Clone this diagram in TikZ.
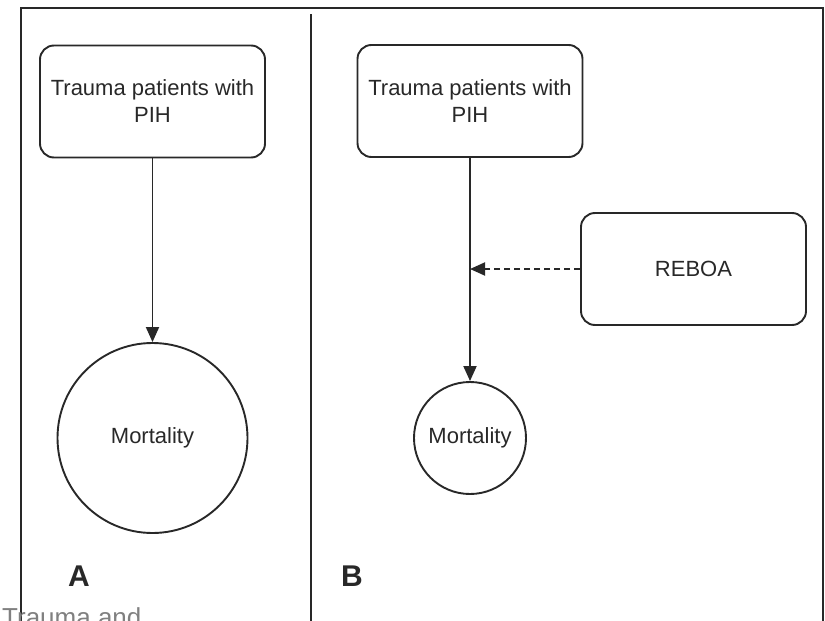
\documentclass[tikz,border=0pt]{standalone}
\usepackage{fontspec}
\setmainfont{Liberation Sans}
\usetikzlibrary{arrows.meta}
\definecolor{trait}{RGB}{40,40,40}
\tikzset{
  boite/.style={draw=trait, line width=1.9pt, rounded corners=14pt, minimum width=225pt, minimum height=112pt, align=center, font=\fontsize{22}{27}\selectfont, text=trait},
  rond/.style={draw=trait, line width=1.9pt, circle, inner sep=0pt, font=\fontsize{22}{27}\selectfont, text=trait},
  fleche/.style={draw=trait, line width=1.9pt, -{Triangle[width=13pt,length=15pt]}},
  lettre/.style={font=\fontsize{30}{30}\selectfont\bfseries, text=trait}
}
\begin{document}
\begin{tikzpicture}[x=1pt, y=-1pt]
    \useasboundingbox (0,0) rectangle (825,621);
    \clip (0,0) rectangle (825,621);
    
    % Cadre et separation
    \draw[trait, line width=2pt] (21,621) -- (21,8) -- (823,8) -- (823,621);
    \draw[trait, line width=2pt] (311,14) -- (311,621);
    
    % Partie A
    \node[boite] (patA) at (152.5,101.5) {Trauma patients with\\PIH};
    \node[rond, minimum size=190pt] (mortA) at (152.5,438) {Mortality};
    \draw[fleche] (patA) -- (mortA);
    \node[lettre] (lettreA) at (79,576) {A};
    
    % Partie B
    \node[boite] (patB) at (470,101) {Trauma patients with\\PIH};
    \node[rond, minimum size=112pt] (mortB) at (470,438) {Mortality};
    \node[boite] (reboa) at (693.5,269) {REBOA};
    \draw[fleche] (patB) -- (mortB);
    \coordinate (milieu) at (patB.south |- reboa.west);
    \draw[fleche, dash pattern=on 6pt off 4pt] (reboa) -- (milieu);
    \node[lettre] (lettreB) at (352,576) {B};
    
    % Texte coupe en bas
    \node[anchor=base west, inner sep=0pt, text=gray, font=\fontsize{26}{26}\selectfont] (legende) at (2,626) {Trauma and};
\end{tikzpicture}
\end{document}
